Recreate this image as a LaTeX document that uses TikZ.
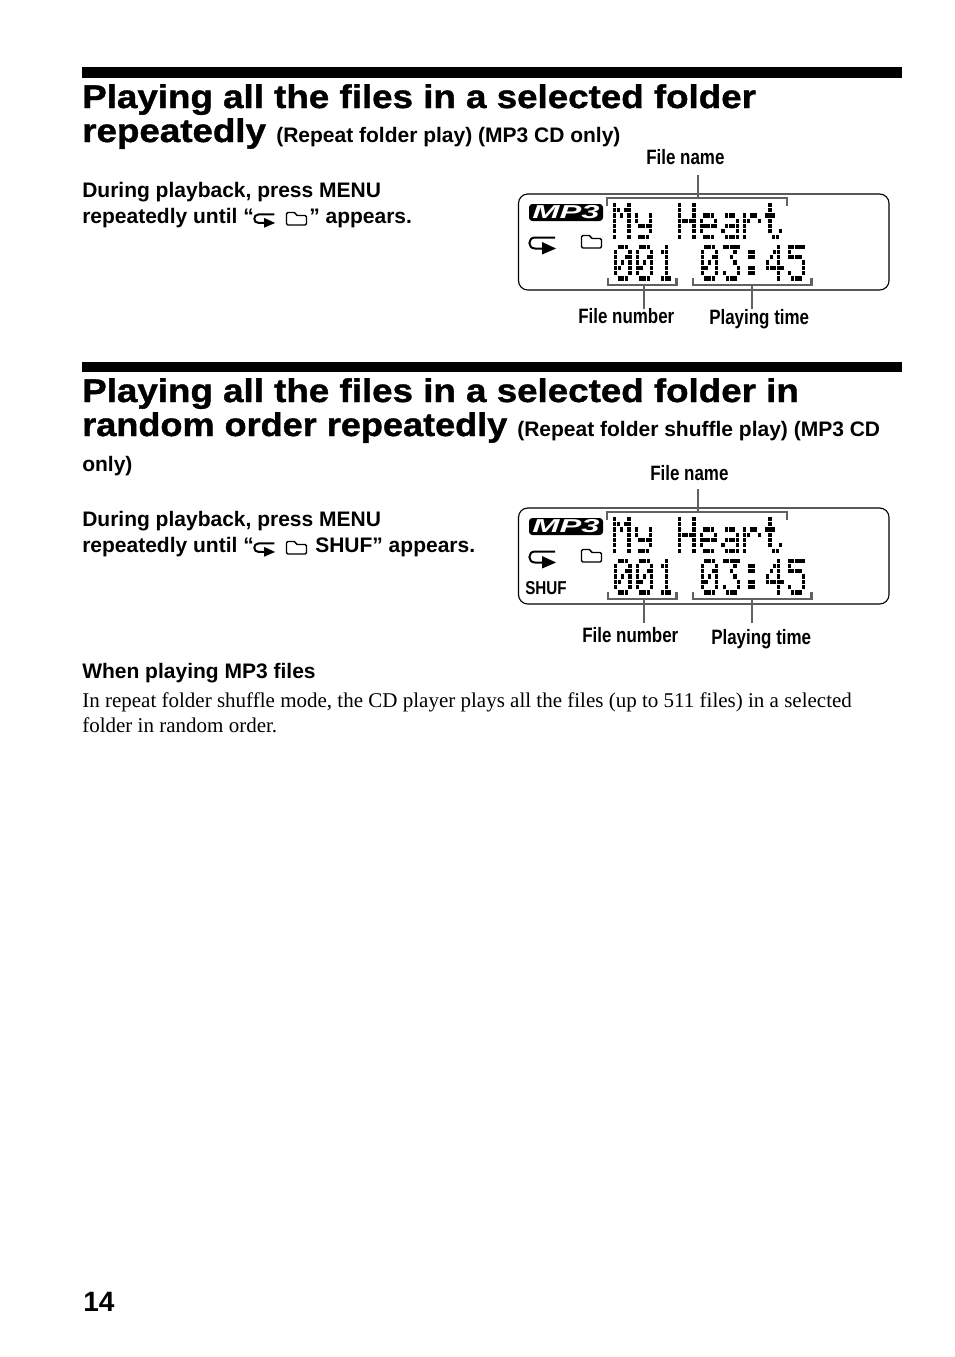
\documentclass[tikz,border=0pt]{standalone}
\usepackage{fontspec}
\setmainfont{Liberation Serif}
\setsansfont{Liberation Sans}
\newfontfamily\hdfont[FakeStretch=1.12,FakeBold=1.2]{Liberation Sans}
\newfontfamily\hdtight[FakeStretch=1.1,FakeBold=1.2]{Liberation Sans}
\newfontfamily\narrowfont[FakeStretch=0.815]{Liberation Sans}
\newfontfamily\badgefont[FakeStretch=1.75]{Liberation Sans}
\tikzset{
  bar/.style={fill=black,draw=none},
  heading/.style={anchor=base west,inner sep=0pt,font=\hdfont\bfseries\fontsize{24.6}{24.6}\selectfont},
  headingtight/.style={anchor=base west,inner sep=0pt,font=\hdtight\bfseries\fontsize{24.6}{24.6}\selectfont},
  subhead/.style={anchor=base west,inner sep=0pt,font=\sffamily\bfseries\fontsize{15.75}{15.75}\selectfont},
  instr/.style={anchor=base west,inner sep=0pt,font=\sffamily\bfseries\fontsize{15.75}{15.75}\selectfont},
  bodytext/.style={anchor=base west,inner sep=0pt,font=\rmfamily\fontsize{15.76}{15.76}\selectfont},
  pageno/.style={anchor=base west,inner sep=0pt,font=\sffamily\bfseries\fontsize{21}{21}\selectfont},
  callout/.style={anchor=base west,inner sep=0pt,font=\narrowfont\bfseries\fontsize{15.6}{15.6}\selectfont},
  smallcallout/.style={anchor=base west,inner sep=0pt,font=\narrowfont\bfseries\fontsize{14}{14}\selectfont},
  leader/.style={draw=black!62,line width=1.6pt},
  lcddot/.style={fill=black,draw=none},
  lcdframe/.style={draw=black,line width=0.85pt,rounded corners=7pt}
}
\newcount\lcdc
\def\lcdbits#1{\ifx#1;\let\lcdnext\relax\else
  \ifx#11\fill[lcddot] ({\lcdX+\the\lcdc*3.62},{\lcdY}) rectangle +(3.2,4.2);\fi
  \advance\lcdc by 1 \let\lcdnext\lcdbits\fi\lcdnext}
\newcommand\lcdchar[3]{\foreach \lcdb [count=\lcdi from 0] in #3 {%
  \pgfmathsetmacro\lcdY{#2+\lcdi*5.3}\def\lcdX{#1}\lcdc=0 \expandafter\lcdbits\lcdb;}}
\def\lcdM{10001,11011,10101,10001,10001,10001,10001}
\def\lcdy{00000,00000,10001,10001,01111,00001,01110}
\def\lcdH{10001,10001,10001,11111,10001,10001,10001}
\def\lcde{00000,00000,01110,10001,11111,10000,01110}
\def\lcda{00000,00000,01110,00001,01111,10001,01111}
\def\lcdr{00000,00000,10110,11001,10000,10000,10000}
\def\lcdt{01000,01000,11100,01000,01000,01001,00110}
\def\lcdzero{01110,10001,10011,10101,11001,10001,01110}
\def\lcdone{00100,01100,00100,00100,00100,00100,01110}
\def\lcdthree{11111,00010,00100,00010,00001,10001,01110}
\def\lcdcolon{00000,01100,01100,00000,01100,01100,00000}
\def\lcdfour{00010,00110,01010,10010,11111,00010,00010}
\def\lcdfive{11111,10000,11110,00001,00001,10001,01110}
% repeat icon: #1,#2 = left, top; #3 = scale
\newcommand\repeaticon[3]{\begin{scope}[shift={(#1,#2)},scale=#3]
  \draw[line width=1.5pt] (26,0.5) -- (6,0.5) .. controls (-1.5,0.5) and (-1.5,11.5) .. (6,11.5) -- (14,11.5);
  \fill (13,5) -- (27,11.5) -- (13,17.5) -- cycle;
\end{scope}}
\newcommand\foldericon[3]{\begin{scope}[shift={(#1,#2)},scale=#3]
  \draw[line width=1.1pt,rounded corners=1pt] (0,13) -- (0,0.5) -- (9,0.5) -- (9.5,3.5) -- (20,3.5) -- (20,13) -- cycle;
\end{scope}}
\newcommand\lcdpanel{%
  \draw[lcdframe] (518.5,194) rectangle (889,290);
  \fill[rounded corners=2.5pt] (529,204) rectangle (603,221);
  \node[anchor=center,inner sep=0pt,text=white,font=\badgefont\bfseries\itshape\fontsize{14}{14}\selectfont] (badge) at (566,212.5) {MP3};
  \repeaticon{529}{237}{1}
  \foldericon{581.5}{235}{1}
  \lcdchar{613}{202.7}{\lcdM}\lcdchar{634.7}{202.7}{\lcdy}
  \lcdchar{678}{202.7}{\lcdH}\lcdchar{699.7}{202.7}{\lcde}\lcdchar{721.4}{202.7}{\lcda}
  \lcdchar{743.1}{202.7}{\lcdr}\lcdchar{764.8}{202.7}{\lcdt}
  \lcdchar{614}{244.5}{\lcdzero}\lcdchar{635.7}{244.5}{\lcdzero}\lcdchar{657.4}{244.5}{\lcdone}
  \lcdchar{700.8}{244.5}{\lcdzero}\lcdchar{722.5}{244.5}{\lcdthree}\lcdchar{744.2}{244.5}{\lcdcolon}
  \lcdchar{765.9}{244.5}{\lcdfour}\lcdchar{787.6}{244.5}{\lcdfive}
  \coordinate (nameTop) at (698.3,175);
  \coordinate (nameBr) at (698.3,198);
  \coordinate (numBot) at (643.7,309);
  \coordinate (numBr) at (643.7,285);
  \coordinate (timeBot) at (751.7,309);
  \coordinate (timeBr) at (751.7,285);
  \draw[leader] (607,205.5) -- (607,198) -- (nameBr) -- (787,198) -- (787,205.5);
  \draw[leader] (nameTop) -- (nameBr);
  \draw[leader] (608,278) -- (608,285) -- (numBr) -- (676.5,285) -- (676.5,278);
  \draw[leader] (numBot) -- (numBr);
  \draw[leader] (693,278) -- (693,285) -- (timeBr) -- (811.5,285) -- (811.5,278);
  \draw[leader] (timeBot) -- (timeBr);
}
\begin{document}
\begin{tikzpicture}[x=0.75pt,y=-0.75pt]
\useasboundingbox (0,0) rectangle (954,1357);
\fill[white] (0,0) rectangle (954,1357);
% section 1
\fill[bar] (82,67) rectangle (902,78);
\node[heading] (h1a) at (82,108) {Playing all the files in a selected folder};
\node[heading] (h1b) at (82,142) {repeatedly};
\node[subhead] (s1) at (276,142) {(Repeat folder play) (MP3 CD only)};
\node[instr] (i1a) at (82,197) {During playback, press MENU};
\node[instr] (i1b) at (82,223) {repeatedly until “};
\repeaticon{254}{214}{0.78}
\foldericon{286.5}{212}{1}
\node[instr] (i1c) at (309,223) {” appears.};
\lcdpanel
\node[callout] (l1a) at (646,164) {File name};
\node[callout] (l1b) at (578,323) {File number};
\node[callout] (l1c) at (709,324) {Playing time};
% section 2
\fill[bar] (82,362) rectangle (902,372);
\node[heading] (h2a) at (82,402) {Playing all the files in a selected folder in};
\node[headingtight] (h2b) at (82,436) {random order repeatedly};
\node[subhead] (s2a) at (517,436) {(Repeat folder shuffle play) (MP3 CD};
\node[subhead] (s2b) at (82,471) {only)};
\node[instr] (i2a) at (82,526) {During playback, press MENU};
\node[instr] (i2b) at (82,552) {repeatedly until “};
\repeaticon{254}{543}{0.78}
\foldericon{286.5}{541}{1}
\node[instr] (i2c) at (315,552) {SHUF” appears.};
\begin{scope}[shift={(0,314)}]
\lcdpanel
\end{scope}
\node[smallcallout] (sh) at (525,594) {SHUF};
\node[callout] (l2a) at (650,480) {File name};
\node[callout] (l2b) at (582,642) {File number};
\node[callout] (l2c) at (711,644) {Playing time};
\node[instr] (w) at (82,678) {When playing MP3 files};
\node[bodytext] (b1) at (82,707) {In repeat folder shuffle mode, the CD player plays all the files (up to 511 files) in a selected};
\node[bodytext] (b2) at (82,732) {folder in random order.};
\node[pageno] (pn) at (83,1311) {14};
\end{tikzpicture}
\end{document}
